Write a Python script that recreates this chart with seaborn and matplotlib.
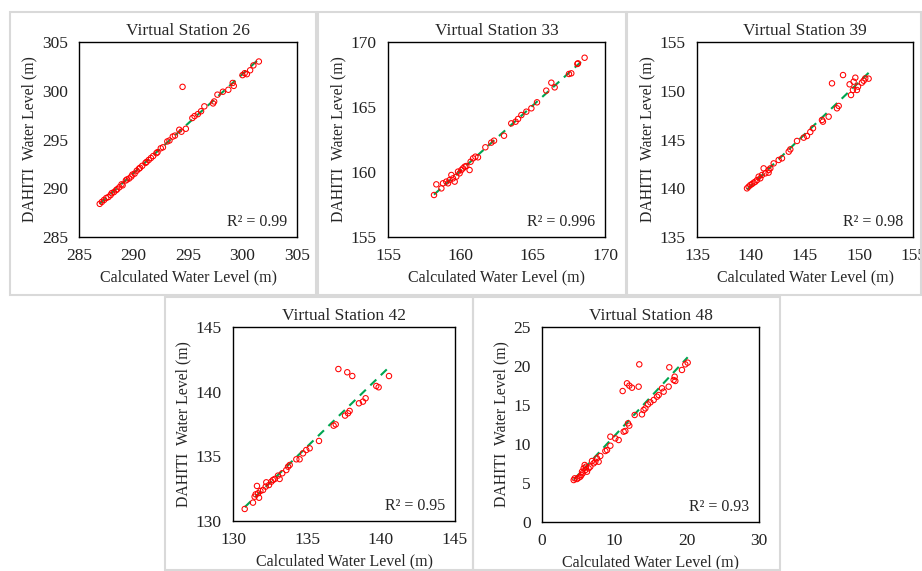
import numpy as np
import pandas as pd
import seaborn as sns
import matplotlib.pyplot as plt
from matplotlib.patches import Rectangle

# values
vs26_calc = [286.9, 287.1, 287.3, 287.5, 287.7, 287.9, 288.0, 288.2, 288.4, 288.5, 288.7, 288.9, 289.0,
             289.3, 289.4, 289.6, 289.8, 289.9, 290.1, 290.3, 290.5, 290.6, 290.8, 291.1, 291.2, 291.4,
             291.6, 291.8, 292.1, 292.2, 292.5, 292.7, 293.1, 293.3, 293.6, 293.8, 294.2, 294.4, 294.8,
             295.4, 295.6, 295.9, 296.2, 296.5, 297.3, 297.4, 297.7, 298.2, 298.7, 299.1, 299.2,
             300.0, 300.2, 300.4, 300.7, 301.0, 301.5, 294.5]
vs26_dahiti = [288.4, 288.6, 288.8, 289.0, 289.1, 289.3, 289.5, 289.6, 289.8, 289.9, 290.1, 290.4, 290.3,
               290.8, 290.9, 291.0, 291.2, 291.4, 291.5, 291.8, 292.0, 292.1, 292.3, 292.6, 292.7, 292.9,
               293.1, 293.3, 293.6, 293.7, 294.1, 294.2, 294.8, 294.9, 295.3, 295.4, 296.0, 295.8, 296.1,
               297.2, 297.4, 297.6, 297.9, 298.4, 298.7, 298.9, 299.6, 299.9, 300.1, 300.8, 300.5,
               301.6, 301.8, 301.7, 302.1, 302.6, 303.0, 300.4]

vs33_calc = [158.18, 158.34, 158.69, 158.80, 159.03, 159.15, 159.26, 159.38, 159.49, 159.61, 159.72,
             159.84, 159.95, 160.07, 160.18, 160.30, 160.41, 160.64, 160.71, 160.88, 161.04, 161.22,
             161.73, 162.14, 162.33, 163.02, 163.52, 163.82, 163.99, 164.22, 164.56, 164.91, 165.30,
             165.94, 166.29, 166.52, 167.51, 167.67, 168.09, 168.13, 168.59]
vs33_dahiti = [158.23, 159.05, 158.74, 159.13, 159.26, 159.13, 159.38, 159.77, 159.51, 159.26, 159.64,
               160.03, 159.90, 160.15, 160.28, 160.41, 160.46, 160.15, 160.79, 161.05, 161.18, 161.13,
               161.90, 162.26, 162.41, 162.79, 163.74, 163.87, 164.08, 164.38, 164.64, 164.90, 165.36,
               166.26, 166.87, 166.51, 167.54, 167.59, 168.31, 168.36, 168.79]

vs39_calc = [139.63, 139.78, 139.94, 140.09, 140.25, 140.40, 140.56, 140.71, 140.86, 141.02, 141.17,
             141.33, 141.63, 141.63, 141.79, 142.10, 142.56, 142.87, 143.49, 143.64, 144.26, 144.88,
             145.18, 145.49, 145.74, 146.57, 146.66, 147.19, 147.96, 148.12, 147.50, 148.52, 149.13,
             149.26, 149.44, 149.50, 149.66, 149.81, 149.91, 150.27, 150.43, 150.58, 150.89]
vs39_dahiti = [139.99, 140.16, 140.33, 140.43, 140.57, 140.67, 140.84, 141.19, 141.02, 141.36, 142.04,
               141.53, 141.60, 141.87, 142.04, 142.55, 142.90, 143.07, 143.75, 143.99, 144.85, 145.19,
               145.36, 145.77, 146.15, 147.00, 146.83, 147.34, 148.20, 148.44, 150.76, 151.61, 150.66,
               149.56, 150.08, 150.93, 151.34, 150.08, 150.42, 150.83, 151.03, 151.27, 151.24]

vs42_calc = [130.79, 131.35, 131.46, 131.53, 131.62, 131.69, 131.76, 131.85, 132.03, 132.21, 132.25,
             132.43, 132.59, 132.70, 132.82, 133.04, 133.15, 133.33, 133.60, 133.72, 133.83, 134.28,
             134.50, 134.73, 134.95, 135.18, 135.81, 136.80, 136.94, 137.57, 137.77, 137.88, 138.51,
             138.78, 138.96, 139.68, 139.84, 140.54, 137.12, 137.72, 138.06]
vs42_dahiti = [130.93, 131.42, 131.88, 132.06, 132.71, 132.14, 131.80, 132.32, 132.40, 132.66, 132.99,
               132.78, 133.04, 133.17, 133.25, 133.51, 133.25, 133.69, 133.94, 134.20, 134.33, 134.77,
               134.77, 135.23, 135.49, 135.62, 136.19, 137.37, 137.47, 138.15, 138.33, 138.51, 139.10,
               139.23, 139.49, 140.44, 140.34, 141.21, 141.75, 141.50, 141.21]

vs48_calc = [4.38, 4.52, 4.84, 5.07, 5.30, 5.44, 5.53, 5.62, 5.76, 5.90, 5.99, 6.08, 6.22, 6.45, 6.68,
             6.91, 7.14, 7.37, 7.60, 7.83, 8.06, 8.76, 8.99, 9.45, 9.45, 10.14, 10.60, 11.29, 11.52,
             11.89, 12.07, 12.81, 13.82, 14.05, 14.29, 14.65, 14.98, 15.44, 15.90, 16.13, 16.59, 16.82,
             17.51, 18.20, 18.34, 18.43, 17.60, 19.35, 19.81, 20.14, 11.15, 11.75, 12.07, 12.44, 13.36,
             13.45]
vs48_dahiti = [5.38, 5.60, 5.51, 5.68, 5.81, 6.02, 6.45, 6.24, 6.88, 7.31, 6.66, 7.09, 6.45, 6.88, 7.09,
               7.82, 7.52, 7.73, 8.16, 7.73, 8.46, 9.10, 9.23, 9.78, 10.94, 10.72, 10.51, 11.58, 11.67,
               12.65, 12.35, 13.72, 13.80, 14.36, 14.57, 15.08, 15.34, 15.64, 16.07, 16.28, 17.14, 16.71,
               17.35, 18.20, 18.63, 18.08, 19.83, 19.49, 20.21, 20.43, 16.79, 17.78, 17.48, 17.22, 17.35,
               20.21]

stations = ['Virtual Station 26', 'Virtual Station 33', 'Virtual Station 39',
            'Virtual Station 42', 'Virtual Station 48']
r2_labels = ['R² = 0.99', 'R² = 0.996', 'R² = 0.98', 'R² = 0.95', 'R² = 0.93']
axis_limits = [(285, 305), (155, 170), (135, 155), (130, 145), None]

sns.set_style('white')
plt.rcParams['font.family'] = ['Liberation Serif', 'DejaVu Serif']

W, H = 922, 571
fig = plt.figure(figsize=(W / 100, H / 100), dpi=100)

def px_rect(l, t, r, b):
    return [l / W, 1 - b / H, (r - l) / W, (b - t) / H]

# grey frames around each panel
for l, t, r, b in [(10, 12, 316, 295), (318, 12, 626, 295), (627, 12, 921, 295),
                   (165, 297, 473, 570), (473, 297, 780, 570)]:
    fig.patches.append(Rectangle((l / W, 1 - b / H), (r - l) / W, (b - t) / H,
                                 transform=fig.transFigure, fill=False,
                                 edgecolor='#d9d9d9', lw=1.5))

axes_px = [(79, 42, 297, 237), (388, 42, 605, 237), (697, 42, 913, 237),
           (233, 327, 455, 521), (542, 327, 759, 522)]

data = [(vs26_calc, vs26_dahiti), (vs33_calc, vs33_dahiti), (vs39_calc, vs39_dahiti),
        (vs42_calc, vs42_dahiti), (vs48_calc, vs48_dahiti)]

for i, (calc, dahiti) in enumerate(data):
    ax = fig.add_axes(px_rect(*axes_px[i]))
    df = pd.DataFrame({'calc': calc, 'dahiti': dahiti})
    sns.regplot(x='calc', y='dahiti', data=df, ax=ax, scatter=False, ci=None,
                line_kws={'color': '#00a550', 'lw': 1.5, 'ls': (0, (4, 3))})
    sns.scatterplot(x='calc', y='dahiti', data=df, ax=ax, marker='o', s=15,
                    facecolor='none', edgecolor='#ff0000', linewidth=0.75, zorder=3)
    if axis_limits[i] is None:
        ax.set_xlim(0, 30)
        ax.set_ylim(0, 25)
        ax.set_xticks([0, 10, 20, 30])
        ax.set_yticks([0, 5, 10, 15, 20, 25])
    else:
        lo, hi = axis_limits[i]
        ax.set_xlim(lo, hi)
        ax.set_ylim(lo, hi)
        ax.set_xticks(np.arange(lo, hi + 1, 5))
        ax.set_yticks(np.arange(lo, hi + 1, 5))
    ax.tick_params(length=0, labelsize=12.5, pad=8, colors='#222222')
    for s in ax.spines.values():
        s.set_color('black')
        s.set_linewidth(1.0)
    ax.set_title(stations[i], fontsize=12.5, pad=5)
    ax.set_xlabel('Calculated Water Level (m)', fontsize=11.5, labelpad=4)
    ax.set_ylabel('DAHITI  Water Level (m)', fontsize=11.3, labelpad=3)
    ax.text(0.955, 0.035, r2_labels[i], transform=ax.transAxes, ha='right', va='bottom',
            fontsize=11.5)

fig.savefig('out.png', dpi=100)
